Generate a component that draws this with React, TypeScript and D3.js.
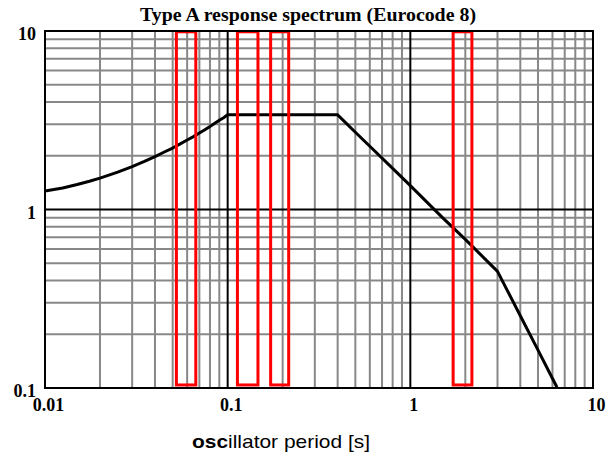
import React from "react";
import * as d3 from "d3";

const periods = [0.01, 0.0125, 0.015, 0.0175, 0.02, 0.025, 0.03, 0.035, 0.04, 0.045, 0.05, 0.055, 0.06, 0.065, 0.07, 0.075, 0.08, 0.085, 0.09, 0.095, 0.1, 0.4, 0.5, 0.6, 0.8, 1, 1.5, 2, 3, 4, 5, 6, 6.35];
const spectrum = [1.27, 1.32, 1.38, 1.44, 1.5, 1.62, 1.74, 1.86, 1.98, 2.1, 2.21, 2.33, 2.45, 2.56, 2.68, 2.8, 2.92, 3.04, 3.16, 3.27, 3.39, 3.39, 2.71, 2.26, 1.7, 1.36, 0.9, 0.68, 0.45, 0.254, 0.163, 0.113, 0.101];

const xTicks = [0.01, 0.1, 1, 10];
const xTickLabels = ["0.01", "0.1", "1", "10"];
const yTicks = [0.1, 1, 10];
const yTickLabels = ["0.1", "1", "10"];

const bandStarts = [0.0524, 0.1131, 0.1719, 1.715];
const bandEnds = [0.0669, 0.1465, 0.2158, 2.173];
const bandBottom = 0.104;
const bandTop = 9.9;

const titleText = "Type A response spectrum (Eurocode 8)";

const W = 607;
const H = 459;
const L = 45, R = 593, T = 31, B = 388;

function minorValues(lo: number, hi: number): number[] {
  const out: number[] = [];
  for (let d = lo; d < hi; d *= 10) {
    for (let k = 2; k <= 9; k++) out.push(d * k);
  }
  return out;
}

export default function App() {
  const x = d3.scaleLog().domain([0.01, 10]).range([L, R]);
  const y = d3.scaleLog().domain([0.1, 10]).range([B, T]);
  const line = d3
    .line<number>()
    .x((_, i) => x(periods[i]))
    .y((d) => y(d));
  const xMinor = minorValues(0.01, 10);
  const yMinor = minorValues(0.1, 10);
  const serif = "'Liberation Serif', 'Times New Roman', serif";
  const sans = "'Liberation Sans', Arial, sans-serif";
  return (
    <div style={{ position: "absolute", left: 0, top: 0 }}>
      <svg width={W} height={H} style={{ display: "block", background: "#fff" }}>
        <g stroke="#888" strokeWidth={2}>
          {xMinor.map((v, i) => (
            <line key={"xm" + i} x1={x(v)} x2={x(v)} y1={T} y2={B} />
          ))}
          {yMinor.map((v, i) => (
            <line key={"ym" + i} x1={L} x2={R} y1={y(v)} y2={y(v)} />
          ))}
        </g>
        <g stroke="#000" strokeWidth={2}>
          {xTicks.map((v, i) => (
            <line key={"xM" + i} x1={x(v)} x2={x(v)} y1={T} y2={B} />
          ))}
          {yTicks.map((v, i) => (
            <line key={"yM" + i} x1={L} x2={R} y1={y(v)} y2={y(v)} />
          ))}
        </g>
        <path d={line(spectrum) || ""} fill="none" stroke="#000" strokeWidth={3} strokeLinejoin="round" />
        <g fill="none" stroke="#ff0000" strokeWidth={3}>
          {bandStarts.map((s, i) => (
            <rect
              key={"b" + i}
              x={x(s)}
              y={y(bandTop)}
              width={x(bandEnds[i]) - x(s)}
              height={y(bandBottom) - y(bandTop)}
            />
          ))}
        </g>
        <rect x={L} y={T} width={R - L} height={B - T} fill="none" stroke="#000" strokeWidth={2} />
        <text
          x={140}
          y={21}
          fontFamily={serif}
          fontWeight="bold"
          fontSize={18}
          textLength={336}
          lengthAdjust="spacingAndGlyphs"
        >
          {titleText}
        </text>
        {yTicks.map((v, i) => (
          <text
            key={"yl" + i}
            x={36}
            y={y(v) + 9}
            textAnchor="end"
            fontFamily={serif}
            fontWeight="bold"
            fontSize={18}
          >
            {yTickLabels[i]}
          </text>
        ))}
        {xTicks.map((v, i) => (
          <text
            key={"xl" + i}
            x={x(v) + 3.5}
            y={411}
            textAnchor="middle"
            fontFamily={serif}
            fontWeight="bold"
            fontSize={18}
          >
            {xTickLabels[i]}
          </text>
        ))}
        <text x={192} y={448} fontFamily={sans} fontSize={19} textLength={178} lengthAdjust="spacingAndGlyphs">
          <tspan fontWeight="bold">osc</tspan>
          <tspan>illator period [s]</tspan>
        </text>
      </svg>
    </div>
  );
}
